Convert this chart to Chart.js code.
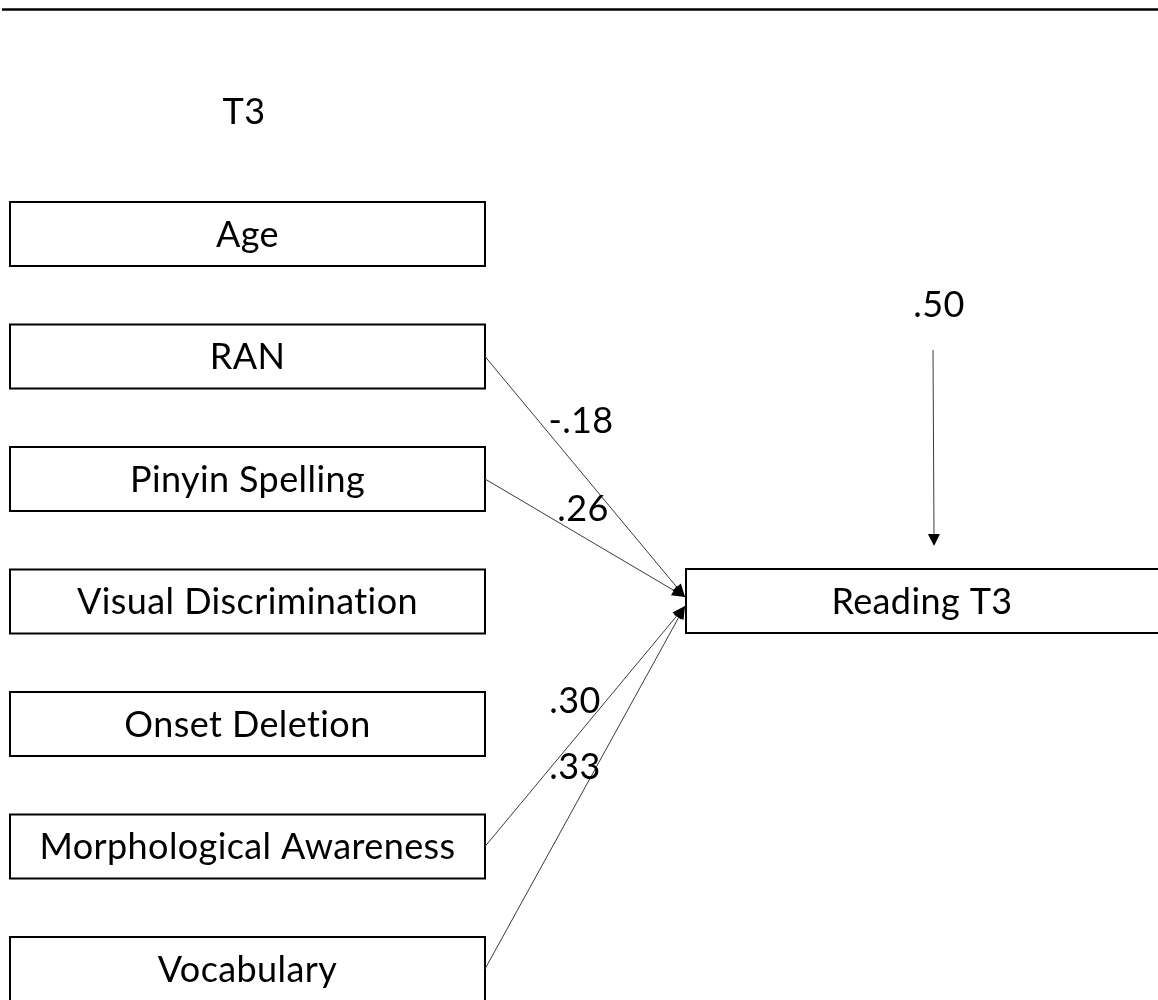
<!DOCTYPE html>
<html>
<head>
<meta charset="utf-8">
<script src="https://cdn.jsdelivr.net/npm/chart.js@4.4.1/dist/chart.umd.min.js"></script>
<style>
  html, body { margin: 0; padding: 0; background: #fff; }
  canvas { display: block; }
</style>
</head>
<body>
<canvas id="pathChart" width="1158" height="1000"></canvas>
<script>
// ---- data ----
const timeLabel = 'T3';
const predictors = ['Age', 'RAN', 'Pinyin Spelling', 'Visual Discrimination',
                    'Onset Deletion', 'Morphological Awareness', 'Vocabulary'];
const outcome = 'Reading T3';
const pathFrom = ['RAN', 'Pinyin Spelling', 'Morphological Awareness', 'Vocabulary'];
const pathCoef = ['-.18', '.26', '.30', '.33'];
const residualVar = '.50';

// ---- layout (page units, y grows downward) ----
const boxLeft = 10, boxRight = 485, boxH = 64;
const boxTops = [202, 324.5, 447, 569.5, 692, 814.5, 937];
const outBox = { x0: 686, x1: 1175, y0: 569, y1: 633 };
const headY = { upper: 597, lower: 606 };
const coefPos = [[581, 420], [583, 508], [575, 700], [575, 766]];
const resid = { tx: 939, ty: 304, x: 933, top: 350, tip: 546 };
const timePos = [244, 111];

const FONT = "'Lato', 'Liberation Sans', sans-serif";
const FSIZE = 36;
const CAP = 0.72; // cap height ratio, used to centre text on capitals

const outMid = (outBox.y0 + outBox.y1) / 2;
const edgeSets = pathFrom.map(function (name) {
  const i = predictors.indexOf(name);
  const y = boxTops[i] + boxH / 2;
  return {
    data: [{ x: boxRight, y: y }, { x: outBox.x0 - 1, y: y < outMid ? headY.upper : headY.lower }],
    showLine: true,
    borderColor: '#3a3a3a',
    borderWidth: 1,
    pointRadius: 0
  };
});

function setFont(ctx) {
  ctx.font = FSIZE + 'px ' + FONT;
  ctx.letterSpacing = '0.4px'; // also switches off the ti ligature
  ctx.textAlign = 'center';
  ctx.textBaseline = 'alphabetic';
}

function capText(ctx, text, x, y) {
  ctx.fillText(text, x, y + FSIZE * CAP / 2);
}

function arrowHead(ctx, x0, y0, x1, y1, len, half) {
  const a = Math.atan2(y1 - y0, x1 - x0);
  ctx.beginPath();
  ctx.moveTo(x1, y1);
  ctx.lineTo(x1 - len * Math.cos(a) + half * Math.sin(a), y1 - len * Math.sin(a) - half * Math.cos(a));
  ctx.lineTo(x1 - len * Math.cos(a) - half * Math.sin(a), y1 - len * Math.sin(a) + half * Math.cos(a));
  ctx.closePath();
  ctx.fill();
}

const diagramPlugin = {
  id: 'diagram',
  beforeDatasetsDraw(chart) {
    const ctx = chart.ctx, sx = chart.scales.x, sy = chart.scales.y;
    const X = v => sx.getPixelForValue(v), Y = v => sy.getPixelForValue(v);
    ctx.save();
    // top rule
    ctx.strokeStyle = '#000';
    ctx.lineWidth = 2.5;
    ctx.beginPath();
    ctx.moveTo(X(2), Y(9.5));
    ctx.lineTo(X(1158), Y(9.5));
    ctx.stroke();

    ctx.lineWidth = 2;
    ctx.fillStyle = '#000';
    setFont(ctx);
    predictors.forEach(function (name, i) {
      const t = boxTops[i];
      ctx.strokeRect(X(boxLeft), Y(t), X(boxRight) - X(boxLeft), Y(t + boxH) - Y(t));
      capText(ctx, name, X((boxLeft + boxRight) / 2), Y(t + boxH / 2));
    });
    ctx.strokeRect(X(outBox.x0), Y(outBox.y0), X(outBox.x1) - X(outBox.x0), Y(outBox.y1) - Y(outBox.y0));
    capText(ctx, outcome, X(922), Y(outMid));
    capText(ctx, timeLabel, X(timePos[0]), Y(timePos[1]));
    ctx.restore();
  },
  afterDatasetsDraw(chart) {
    const ctx = chart.ctx, sx = chart.scales.x, sy = chart.scales.y;
    const X = v => sx.getPixelForValue(v), Y = v => sy.getPixelForValue(v);
    ctx.save();
    ctx.fillStyle = '#000';
    chart.data.datasets.forEach(function (ds) {
      const p0 = ds.data[0], p1 = ds.data[1];
      arrowHead(ctx, X(p0.x), Y(p0.y), X(p1.x), Y(p1.y), 13, 5.5);
    });
    // residual arrow
    ctx.strokeStyle = '#3a3a3a';
    ctx.lineWidth = 1;
    ctx.beginPath();
    ctx.moveTo(X(resid.x), Y(resid.top));
    ctx.lineTo(X(resid.x + 1), Y(resid.tip - 10));
    ctx.stroke();
    arrowHead(ctx, X(resid.x), Y(resid.top), X(resid.x + 1), Y(resid.tip), 12, 6);

    setFont(ctx);
    pathCoef.forEach(function (c, i) {
      capText(ctx, c, X(coefPos[i][0]), Y(coefPos[i][1]));
    });
    capText(ctx, residualVar, X(resid.tx), Y(resid.ty));
    ctx.restore();
  }
};

new Chart(document.getElementById('pathChart').getContext('2d'), {
  type: 'scatter',
  data: { datasets: edgeSets },
  options: {
    responsive: false,
    animation: false,
    layout: { padding: 0 },
    scales: {
      x: { type: 'linear', min: 0, max: 1158, display: false },
      y: { type: 'linear', min: 0, max: 1000, reverse: true, display: false }
    },
    plugins: { legend: { display: false }, tooltip: { enabled: false } }
  },
  plugins: [diagramPlugin]
});
</script>
</body>
</html>
